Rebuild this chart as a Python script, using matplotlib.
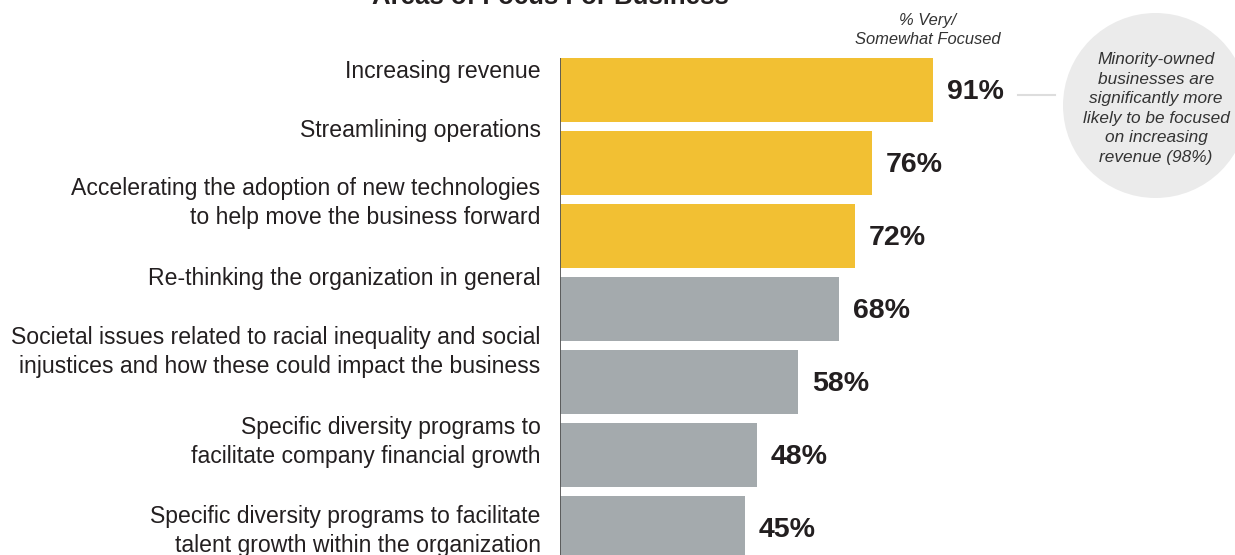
import matplotlib.pyplot as plt
from matplotlib.patches import Ellipse
from matplotlib.lines import Line2D

plt.rcParams['font.family'] = ['Liberation Sans', 'DejaVu Sans']

categories = [
    "Increasing revenue",
    "Streamlining operations",
    "Accelerating the adoption of new technologies\nto help move the business forward",
    "Re-thinking the organization in general",
    "Societal issues related to racial inequality and social\ninjustices and how these could impact the business",
    "Specific diversity programs to\nfacilitate company financial growth",
    "Specific diversity programs to facilitate\ntalent growth within the organization",
]
values = [91, 76, 72, 68, 58, 48, 45]
highlight = [True, True, True, False, False, False, False]

# vertical nudge of each category label relative to its bar (in bar units)
label_shift = [-0.25, -0.45, -0.45, -0.42, -0.41, -0.18, 0.04]

title = "Areas of Focus For Business"
col_header = "% Very/\nSomewhat Focused"
callout = ("Minority-owned\nbusinesses are\nsignificantly more\n"
           "likely to be focused\non increasing\nrevenue (98%)")

YELLOW = "#F2C033"
GREY = "#A4AAAD"
INK = "#231F20"

W, H = 1235, 555
fig = plt.figure(figsize=(W / 100, H / 100), dpi=100)

# axes spans from the baseline at x=560px to the right edge, full height
ax = fig.add_axes([560 / W, 0, 1 - 560 / W, 1])
px_per_unit = 4.1
ax.set_xlim(0, (W - 560) / px_per_unit)
pitch, top = 73, 90
ax.set_ylim((H - top) / pitch, -top / pitch)
ax.axis("off")

ys = list(range(len(values)))
colors = [YELLOW if h else GREY for h in highlight]
ax.barh(ys, values, height=64 / pitch, color=colors, edgecolor="none")
ax.vlines(0, -32 / pitch, (H - top) / pitch, color="#555555", lw=1.3)

for y, v in zip(ys, values):
    ax.annotate(f"{v}%", (v, y), xytext=(10, -1.5), textcoords="offset points",
                ha="left", va="center", fontsize=20.5, fontweight="bold", color=INK)

for y, lab, s in zip(ys, categories, label_shift):
    ax.annotate(lab, (0, y + s), xytext=(-14, 0), textcoords="offset points",
                ha="right", va="center", fontsize=16.6, color=INK,
                linespacing=1.33, annotation_clip=False)

# title sits mostly above the canvas
fig.text(550 / W, 1 - 4 / H, title, ha="center", va="baseline",
         fontsize=18.5, fontweight="bold", color=INK)

fig.text(928 / W, 1 - 30 / H, col_header, ha="center", va="center",
         fontsize=11.9, style="italic", color="#333333", linespacing=1.35)

# callout bubble and connector
fig.add_artist(Ellipse((1155.5 / W, 1 - 105.5 / H), 185 / W, 185 / H,
                       transform=fig.transFigure, facecolor="#EBEBEB",
                       edgecolor="none"))
fig.add_artist(Line2D([1018 / W, 1055 / W], [1 - 95 / H, 1 - 95 / H],
                      transform=fig.transFigure, color="#DDDDDD", lw=1.5))
fig.text(1156 / W, 1 - 108.5 / H, callout, ha="center", va="center",
         fontsize=12.4, style="italic", color="#333333", linespacing=1.38)

fig.savefig("out.png", dpi=100)
